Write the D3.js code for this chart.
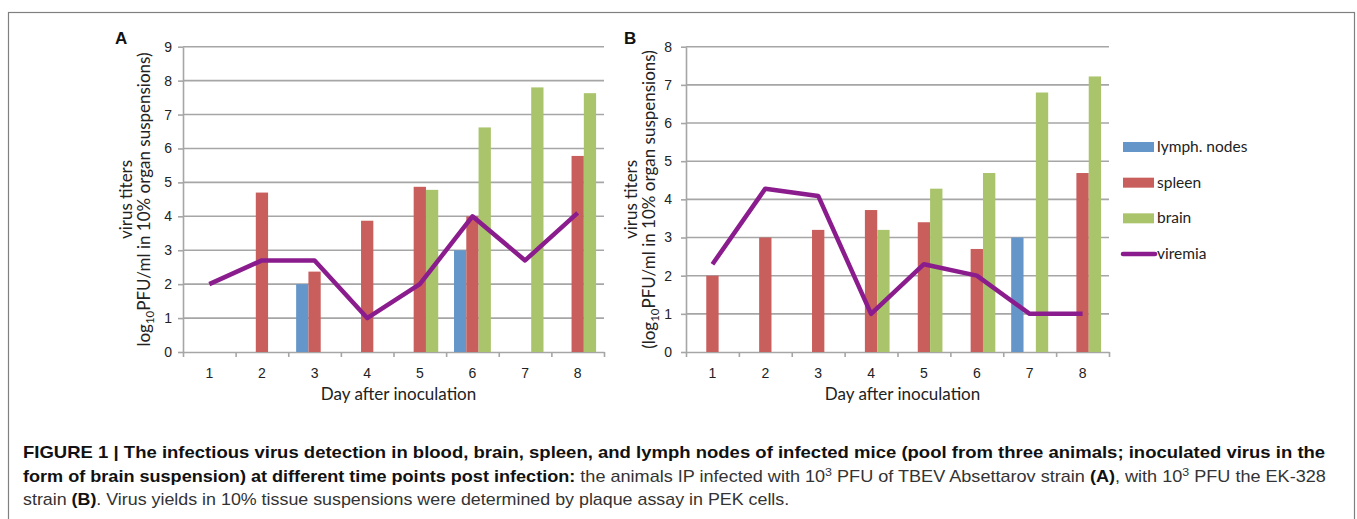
<!DOCTYPE html>
<html>
<head>
<meta charset="utf-8">
<script src="https://cdn.jsdelivr.net/npm/d3@7"></script>
<style>
  body { margin: 0; background: #fff; }
  svg { display: block; }
</style>
</head>
<body>
<svg id="fig" width="1357" height="519"></svg>
<script>
// data
const days = [1, 2, 3, 4, 5, 6, 7, 8];
const seriesNames = ['lymph. nodes', 'spleen', 'brain'];
const lineName = 'viremia';

const lymphA   = [0, 0, 2, 0, 0, 3, 0, 0];
const spleenA  = [0, 4.7, 2.37, 3.87, 4.87, 4.0, 0, 5.78];
const brainA   = [0, 0, 0, 0, 4.78, 6.62, 7.8, 7.63];
const viremiaA = [2, 2.7, 2.7, 1, 2, 4, 2.7, 4.1];

const lymphB   = [0, 0, 0, 0, 0, 0, 3, 0];
const spleenB  = [2, 3, 3.2, 3.72, 3.4, 2.7, 0, 4.69];
const brainB   = [0, 0, 0, 3.2, 4.28, 4.69, 6.8, 7.22];
const viremiaB = [2.3, 4.28, 4.09, 1, 2.3, 2, 1, 1];

const yTicksA = [0, 1, 2, 3, 4, 5, 6, 7, 8, 9];
const yTicksB = [0, 1, 2, 3, 4, 5, 6, 7, 8];

const colors = ['#6596c9', '#c95f5c', '#a9c46b'];
const lineColor = '#8b1c8d';
const GRID = '#a6a6a6';
const INK = '#222';
const CHART_FONT = 'Lato, "Open Sans", sans-serif';

const svg = d3.select('#fig');

// outer frame
svg.append('rect')
  .attr('x', 8.5).attr('y', 12.5)
  .attr('width', 1346).attr('height', 530)
  .attr('fill', 'none').attr('stroke', '#808080').attr('stroke-width', 1.2);

function panel(cfg) {
  const top = 46.7, bottom = 352;
  const x = d3.scaleBand().domain(days).range([cfg.left, cfg.right])
    .paddingInner(0.3).paddingOuter(0.15);
  const xs = d3.scaleBand().domain(seriesNames).range([0, x.bandwidth()]);
  const xb = d3.scaleLinear().domain([0, days.length]).range([cfg.left, cfg.right]);
  const y = d3.scaleLinear().domain([0, cfg.yTicks[cfg.yTicks.length - 1]]).range([bottom, top]);

  const g = svg.append('g').style('font-family', CHART_FONT);

  // gridlines
  g.append('g').selectAll('line')
    .data(cfg.yTicks.slice(1))
    .join('line')
    .attr('x1', cfg.left).attr('x2', cfg.right)
    .attr('y1', d => y(d)).attr('y2', d => y(d))
    .attr('stroke', GRID).attr('stroke-width', 1.6);

  // y axis
  const ya = g.append('g')
    .attr('transform', `translate(${cfg.left},0)`)
    .call(d3.axisLeft(y).tickValues(cfg.yTicks).tickSize(5).tickSizeOuter(0)
      .tickPadding(cfg.yPad).tickFormat(d3.format('d')));
  ya.selectAll('path, line').attr('stroke', GRID).attr('stroke-width', 1.6);
  ya.selectAll('text').attr('fill', INK).style('font-size', '14px');

  // x axis: boundary ticks + centered labels
  const xa = g.append('g')
    .attr('transform', `translate(0,${bottom})`)
    .call(d3.axisBottom(xb).ticks(days.length).tickSize(5).tickSizeOuter(0).tickFormat(''));
  xa.selectAll('path, line').attr('stroke', GRID).attr('stroke-width', 1.6);

  const xl = g.append('g')
    .attr('transform', `translate(0,${bottom})`)
    .call(d3.axisBottom(x).tickSize(0).tickPadding(16));
  xl.select('.domain').remove();
  xl.selectAll('text').attr('fill', INK).style('font-size', '14px');

  // bars
  const rows = days.map((d, i) => ({ day: d, vals: cfg.bars.map(s => s[i]) }));
  g.append('g').selectAll('g')
    .data(rows)
    .join('g')
    .attr('transform', d => `translate(${x(d.day)},0)`)
    .selectAll('rect')
    .data(d => d.vals.map((v, j) => ({ key: seriesNames[j], v, j })))
    .join('rect')
    .attr('x', d => xs(d.key))
    .attr('width', xs.bandwidth())
    .attr('y', d => y(d.v))
    .attr('height', d => bottom - y(d.v))
    .attr('fill', d => colors[d.j]);

  // viremia line
  const line = d3.line()
    .x((d, i) => x(days[i]) + x.bandwidth() / 2)
    .y(d => y(d));
  g.append('path')
    .datum(cfg.line)
    .attr('d', line)
    .attr('fill', 'none')
    .attr('stroke', lineColor)
    .attr('stroke-width', 4.5)
    .attr('stroke-linejoin', 'round');

  // x axis title
  g.append('text')
    .attr('x', (cfg.left + cfg.right) / 2 + 5).attr('y', 400)
    .attr('text-anchor', 'middle').attr('fill', INK)
    .style('font-size', '17px')
    .text('Day after inoculation');

  // y axis title (two lines)
  g.append('text')
    .attr('transform', `translate(${cfg.t1},199.5) rotate(-90)`)
    .attr('text-anchor', 'middle').attr('fill', INK)
    .style('font-size', '17px')
    .text('virus titers');
  const t2 = g.append('text')
    .attr('transform', `translate(${cfg.t2},199.5) rotate(-90)`)
    .attr('text-anchor', 'middle').attr('fill', INK)
    .style('font-size', '17px');
  t2.append('tspan').text(cfg.open + 'log');
  t2.append('tspan').attr('dy', 4).style('font-size', '11.5px').text('10');
  t2.append('tspan').attr('dy', -4).text('PFU/ml in 10% organ suspensions)');

  // panel letter
  svg.append('text')
    .attr('x', cfg.letterX).attr('y', 44)
    .style('font-family', '"Liberation Sans", Arial, sans-serif')
    .style('font-weight', 'bold').style('font-size', '17px')
    .attr('fill', '#111')
    .text(cfg.letter);
}

panel({ left: 183, right: 604, yTicks: yTicksA, yPad: 6,
  bars: [lymphA, spleenA, brainA], line: viremiaA,
  t1: 131.5, t2: 150, open: '', letter: 'A', letterX: 115 });

panel({ left: 686, right: 1109, yTicks: yTicksB, yPad: 9,
  bars: [lymphB, spleenB, brainB], line: viremiaB,
  t1: 637, t2: 655, open: '(', letter: 'B', letterX: 624 });

// legend
const legendItems = seriesNames.concat([lineName]);
const leg = svg.append('g')
  .attr('transform', 'translate(1123,0)')
  .style('font-family', CHART_FONT);
const ly = d3.scalePoint().domain(legendItems).range([147, 254]);
legendItems.forEach((name, i) => {
  if (i < seriesNames.length) {
    leg.append('rect')
      .attr('x', 0).attr('y', ly(name) - 5)
      .attr('width', 31).attr('height', 10)
      .attr('fill', colors[i]);
  } else {
    leg.append('line')
      .attr('x1', 0).attr('x2', 32)
      .attr('y1', ly(name)).attr('y2', ly(name))
      .attr('stroke', lineColor).attr('stroke-width', 4.5)
      .attr('stroke-linecap', 'round');
  }
  leg.append('text')
    .attr('x', 34).attr('y', ly(name) + 5)
    .attr('fill', INK).style('font-size', '15.5px')
    .text(name);
});

// caption
const captionLines = [
  [['FIGURE 1 | The infectious virus detection in blood, brain, spleen, and lymph nodes of infected mice (pool from three animals; inoculated virus in the', true]],
  [['form of brain suspension) at different time points post infection:', true],
   [' the animals IP infected with 10', false], ['3', false, true],
   [' PFU of TBEV Absettarov strain ', false], ['(A)', true],
   [', with 10', false], ['3', false, true], [' PFU the EK-328', false]],
  [['strain ', false], ['(B)', true],
   ['. Virus yields in 10% tissue suspensions were determined by plaque assay in PEK cells.', false]]
];
const captionY = [458, 482, 505];
const captionW = [1303, 1304, 767];

const capNodes = captionLines.map((segs, li) => {
  const t = svg.append('text')
    .attr('x', 0).attr('y', 0)
    .style('font-family', '"Liberation Sans", Arial, sans-serif')
    .style('font-size', '16px');
  let raised = false;
  segs.forEach(([s, bold, sup]) => {
    const ts = t.append('tspan').text(s)
      .style('font-weight', bold ? 'bold' : 'normal')
      .attr('fill', bold ? '#111' : '#333');
    if (sup) { ts.attr('dy', -6).style('font-size', '11px'); raised = true; }
    else if (raised) { ts.attr('dy', 6); raised = false; }
  });
  return t;
});
capNodes.forEach((t, li) => {
  const w = t.node().getBBox().width;
  t.attr('transform', `translate(23,${captionY[li]}) scale(${captionW[li] / w},1)`);
});
</script>
</body>
</html>
